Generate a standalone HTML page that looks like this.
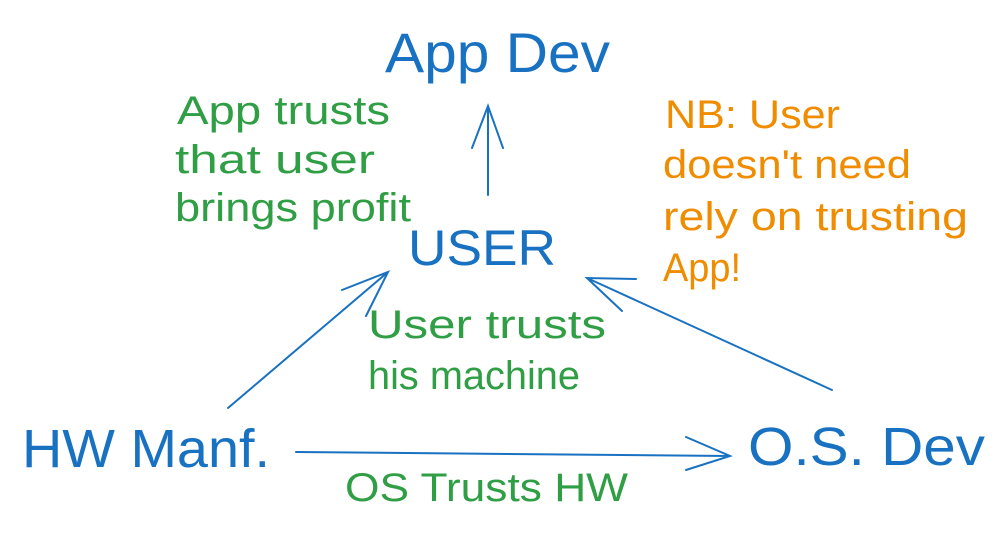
<!DOCTYPE html>
<html><head><meta charset="utf-8"><style>
html,body{margin:0;padding:0;background:#fff;}
svg{display:block}
text{font-family:"Liberation Sans",sans-serif;}
</style></head><body>
<svg width="1007" height="534" viewBox="0 0 1007 534" xmlns="http://www.w3.org/2000/svg">
<g fill="#1971c2">
<text x="385" y="72" font-size="56" textLength="225" lengthAdjust="spacingAndGlyphs">App Dev</text>
<text x="408" y="265" font-size="50" textLength="148" lengthAdjust="spacingAndGlyphs">USER</text>
<text x="22" y="467" font-size="54" textLength="248" lengthAdjust="spacingAndGlyphs">HW Manf.</text>
<text x="748" y="465" font-size="54" textLength="237" lengthAdjust="spacingAndGlyphs">O.S. Dev</text>
</g>
<g fill="#2f9e44" font-size="40">
<text x="177" y="124" textLength="213" lengthAdjust="spacingAndGlyphs">App trusts</text>
<text x="175" y="173" textLength="200" lengthAdjust="spacingAndGlyphs">that user</text>
<text x="175" y="221" textLength="236" lengthAdjust="spacingAndGlyphs">brings profit</text>
<text x="368" y="338" textLength="238" lengthAdjust="spacingAndGlyphs">User trusts</text>
<text x="368" y="389" textLength="212" lengthAdjust="spacingAndGlyphs">his machine</text>
<text x="345" y="501" textLength="283" lengthAdjust="spacingAndGlyphs">OS Trusts HW</text>
</g>
<g fill="#f08c00" font-size="40">
<text x="665" y="128" textLength="175" lengthAdjust="spacingAndGlyphs">NB: User</text>
<text x="663" y="178" textLength="248" lengthAdjust="spacingAndGlyphs">doesn't need</text>
<text x="663" y="230" textLength="305" lengthAdjust="spacingAndGlyphs">rely on trusting</text>
<text x="663" y="281" textLength="78" lengthAdjust="spacingAndGlyphs">App!</text>
</g>
<g stroke="#1971c2" stroke-width="2" fill="none" stroke-linecap="round">
<path d="M488 195 L488 107 M472 148 L488 106 L503 148"/>
<path d="M228 408 L388 272 M342 290 L388 272 L366 316"/>
<path d="M832 390 L587 278 M636 279 L587 278 L622 311"/>
<path d="M296 452 L730 456 M686 437 L730 456 L686 470"/>
</g>
</svg>
</body></html>
